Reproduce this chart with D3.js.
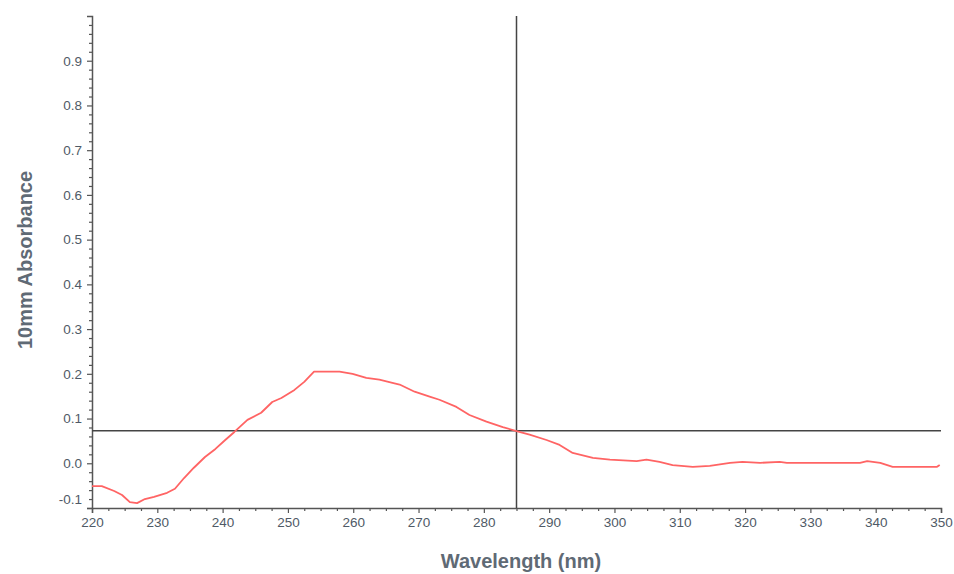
<!DOCTYPE html>
<html>
<head>
<meta charset="utf-8">
<script src="https://cdn.jsdelivr.net/npm/d3@7"></script>
<style>
  body { margin: 0; background: #fff; }
  .tick text { font-family: "Liberation Sans", Arial, sans-serif; font-size: 13.5px; fill: #4f5a66; }
  .axis-title { font-family: "Liberation Sans", Arial, sans-serif; font-size: 20px; font-weight: bold; fill: #5f6a75; }
</style>
</head>
<body>
<div id="chart"></div>
<script>
// spectrum
const wavelengths = [220, 221.5, 223.4, 224.6, 225.8, 226.9, 228.1, 229.5, 231.5, 232.7, 234.1, 235.6,
  237.3, 238.9, 240.4, 241.8, 243.8, 245.9, 247.6, 249, 251, 252.5, 254, 255.9, 257.9, 259.9, 262,
  264, 266, 267.1, 269.4, 271.7, 273.2, 275.8, 277.8, 280.4, 282.9, 285, 287, 289.6, 291.6, 293.6,
  296.7, 299.3, 303.4, 304.9, 306.9, 308.9, 312, 314.6, 317.7, 319.6, 322.3, 325.3, 326.4, 328.8,
  331, 337.6, 338.7, 340.7, 342.6, 349.4, 349.8];
const absorbance = [-0.051, -0.051, -0.062, -0.071, -0.087, -0.089, -0.080, -0.075, -0.066, -0.057, -0.033, -0.010,
  0.014, 0.032, 0.052, 0.070, 0.097, 0.113, 0.137, 0.146, 0.164, 0.182, 0.205, 0.205, 0.205, 0.200, 0.191,
  0.187, 0.180, 0.176, 0.160, 0.149, 0.142, 0.126, 0.108, 0.093, 0.081, 0.072, 0.064, 0.052, 0.041, 0.023,
  0.012, 0.008, 0.005, 0.008, 0.003, -0.004, -0.008, -0.006, 0.001, 0.003, 0.001, 0.003, 0.001, 0.001,
  0.001, 0.001, 0.005, 0.001, -0.008, -0.008, -0.004];

const xMajorTicks = [220, 230, 240, 250, 260, 270, 280, 290, 300, 310, 320, 330, 340, 350];
const yMajorTicks = [-0.1, 0.0, 0.1, 0.2, 0.3, 0.4, 0.5, 0.6, 0.7, 0.8, 0.9];

// cursor crosshair
const cursorX = 285;
const cursorY = 0.0725;

const width = 954, height = 574;
const margin = { top: 16, right: 13, bottom: 66, left: 92 };

const svg = d3.select("#chart").append("svg")
  .attr("width", width)
  .attr("height", height);

const x = d3.scaleLinear().domain([220, 350]).range([margin.left, width - margin.right]);
const y = d3.scaleLinear().domain([-0.1, 1.0]).range([height - margin.bottom, margin.top]);

const xMinor = d3.range(220, 350.1, 2.5).filter(v => v % 10 !== 0);
const yMinor = d3.range(-10, 101, 2).map(v => v / 100).filter(v => Math.round(v * 100) % 10 !== 0);

// x axis
const gx = svg.append("g").attr("transform", `translate(0,${height - margin.bottom})`);
gx.call(d3.axisBottom(x).tickValues(xMajorTicks).tickSize(5).tickPadding(4).tickFormat(d3.format("d")));
gx.append("g").call(d3.axisBottom(x).tickValues(xMinor).tickSize(3).tickFormat(""))
  .select(".domain").remove();

// y axis
const gy = svg.append("g").attr("transform", `translate(${margin.left},0)`);
gy.call(d3.axisLeft(y).tickValues(yMajorTicks).tickSize(5).tickPadding(5).tickFormat(d => d.toFixed(1)));
gy.append("g").call(d3.axisLeft(y).tickValues(yMinor).tickSize(3).tickFormat(""))
  .select(".domain").remove();

// the bottom label sits a bit above its tick
gy.selectAll(".tick text").filter(d => d < -0.05).attr("dy", "-0.35em");

svg.selectAll(".domain").attr("stroke", "#555").attr("stroke-width", 1.5);
svg.selectAll(".tick line").attr("stroke", "#555").attr("stroke-width", 1.2);

// crosshair
svg.append("line")
  .attr("x1", x(220)).attr("x2", x(350))
  .attr("y1", y(cursorY)).attr("y2", y(cursorY))
  .attr("stroke", "#444").attr("stroke-width", 1.5);
svg.append("line")
  .attr("x1", x(cursorX)).attr("x2", x(cursorX))
  .attr("y1", y(1.0)).attr("y2", y(-0.1))
  .attr("stroke", "#444").attr("stroke-width", 1.5);

// spectrum line
const points = wavelengths.map((w, i) => [w, absorbance[i]]);
svg.append("path")
  .datum(points)
  .attr("fill", "none")
  .attr("stroke", "#ff6464")
  .attr("stroke-width", 1.8)
  .attr("stroke-linejoin", "round")
  .attr("d", d3.line().x(d => x(d[0])).y(d => y(d[1])));

// axis titles
svg.append("text")
  .attr("class", "axis-title")
  .attr("transform", "translate(32,260) rotate(-90)")
  .attr("text-anchor", "middle")
  .text("10mm Absorbance");

svg.append("text")
  .attr("class", "axis-title")
  .attr("x", 521)
  .attr("y", 568)
  .attr("text-anchor", "middle")
  .text("Wavelength (nm)");
</script>
</body>
</html>
